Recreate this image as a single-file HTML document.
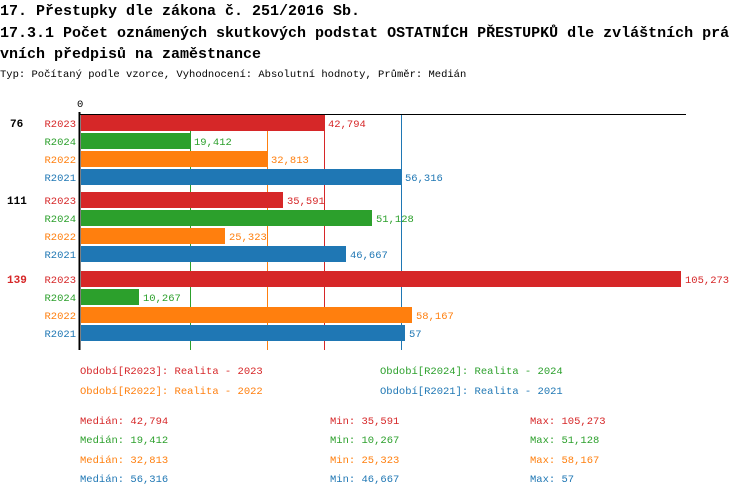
<!DOCTYPE html>
<html><head><meta charset="utf-8"><style>
body{margin:0;background:#fff;width:750px;height:498px;overflow:hidden}
svg{font-family:"Liberation Mono",monospace}
</style></head><body>
<svg width="750" height="498" xmlns="http://www.w3.org/2000/svg">
<g font-size="15" font-weight="bold" fill="#000">
<text x="0" y="15">17. Přestupky dle zákona č. 251/2016 Sb.</text>
<text x="0" y="37">17.3.1 Počet oznámených skutkových podstat OSTATNÍCH PŘESTUPKŮ dle zvláštních prá</text>
<text x="0" y="58">vních předpisů na zaměstnance</text>
</g>
<text x="0" y="77" font-size="10.5">Typ: Počítaný podle vzorce, Vyhodnocení: Absolutní hodnoty, Průměr: Medián</text>
<text x="77" y="107" font-size="10.5">0</text>
<!-- median lines -->
<line x1="190.5" y1="114" x2="190.5" y2="350" stroke="#2ca02c"/>
<line x1="267.5" y1="114" x2="267.5" y2="350" stroke="#ff7f0e"/>
<line x1="324.5" y1="114" x2="324.5" y2="350" stroke="#d62728"/>
<line x1="401.5" y1="114" x2="401.5" y2="350" stroke="#1f77b4"/>
<g font-size="10.5">
<!-- group 1 -->
<text x="10" y="127" font-weight="bold" font-size="11">76</text>
<rect x="81" y="115" width="243" height="16" fill="#d62728"/><text x="76" y="127" text-anchor="end" fill="#d62728">R2023</text><text x="328" y="127" fill="#d62728">42,794</text>
<rect x="81" y="133" width="109" height="16" fill="#2ca02c"/><text x="76" y="145" text-anchor="end" fill="#2ca02c">R2024</text><text x="194" y="145" fill="#2ca02c">19,412</text>
<rect x="81" y="151" width="186" height="16" fill="#ff7f0e"/><text x="76" y="163" text-anchor="end" fill="#ff7f0e">R2022</text><text x="271" y="163" fill="#ff7f0e">32,813</text>
<rect x="81" y="169" width="320" height="16" fill="#1f77b4"/><text x="76" y="181" text-anchor="end" fill="#1f77b4">R2021</text><text x="405" y="181" fill="#1f77b4">56,316</text>
<!-- group 2 -->
<text x="7" y="204" font-weight="bold" font-size="11">111</text>
<rect x="81" y="192" width="202" height="16" fill="#d62728"/><text x="76" y="204" text-anchor="end" fill="#d62728">R2023</text><text x="287" y="204" fill="#d62728">35,591</text>
<rect x="81" y="210" width="291" height="16" fill="#2ca02c"/><text x="76" y="222" text-anchor="end" fill="#2ca02c">R2024</text><text x="376" y="222" fill="#2ca02c">51,128</text>
<rect x="81" y="228" width="144" height="16" fill="#ff7f0e"/><text x="76" y="240" text-anchor="end" fill="#ff7f0e">R2022</text><text x="229" y="240" fill="#ff7f0e">25,323</text>
<rect x="81" y="246" width="265" height="16" fill="#1f77b4"/><text x="76" y="258" text-anchor="end" fill="#1f77b4">R2021</text><text x="350" y="258" fill="#1f77b4">46,667</text>
<!-- group 3 -->
<text x="7" y="283" font-weight="bold" font-size="11" fill="#d62728">139</text>
<rect x="81" y="271" width="600" height="16" fill="#d62728"/><text x="76" y="283" text-anchor="end" fill="#d62728">R2023</text><text x="685" y="283" fill="#d62728">105,273</text>
<rect x="81" y="289" width="58" height="16" fill="#2ca02c"/><text x="76" y="301" text-anchor="end" fill="#2ca02c">R2024</text><text x="143" y="301" fill="#2ca02c">10,267</text>
<rect x="81" y="307" width="331" height="16" fill="#ff7f0e"/><text x="76" y="319" text-anchor="end" fill="#ff7f0e">R2022</text><text x="416" y="319" fill="#ff7f0e">58,167</text>
<rect x="81" y="325" width="324" height="16" fill="#1f77b4"/><text x="76" y="337" text-anchor="end" fill="#1f77b4">R2021</text><text x="409" y="337" fill="#1f77b4">57</text>
</g>
<line x1="79" y1="114.5" x2="686" y2="114.5" stroke="#000"/>
<line x1="79.5" y1="112" x2="79.5" y2="350" stroke="#000" stroke-width="2"/>
<g font-size="10.5">
<text x="80" y="374" fill="#d62728">Období[R2023]: Realita - 2023</text>
<text x="380" y="374" fill="#2ca02c">Období[R2024]: Realita - 2024</text>
<text x="80" y="394" fill="#ff7f0e">Období[R2022]: Realita - 2022</text>
<text x="380" y="394" fill="#1f77b4">Období[R2021]: Realita - 2021</text>
<text x="80" y="424" fill="#d62728">Medián: 42,794</text><text x="330" y="424" fill="#d62728">Min: 35,591</text><text x="530" y="424" fill="#d62728">Max: 105,273</text>
<text x="80" y="443" fill="#2ca02c">Medián: 19,412</text><text x="330" y="443" fill="#2ca02c">Min: 10,267</text><text x="530" y="443" fill="#2ca02c">Max: 51,128</text>
<text x="80" y="463" fill="#ff7f0e">Medián: 32,813</text><text x="330" y="463" fill="#ff7f0e">Min: 25,323</text><text x="530" y="463" fill="#ff7f0e">Max: 58,167</text>
<text x="80" y="482" fill="#1f77b4">Medián: 56,316</text><text x="330" y="482" fill="#1f77b4">Min: 46,667</text><text x="530" y="482" fill="#1f77b4">Max: 57</text>
</g>
</svg>
</body></html>
